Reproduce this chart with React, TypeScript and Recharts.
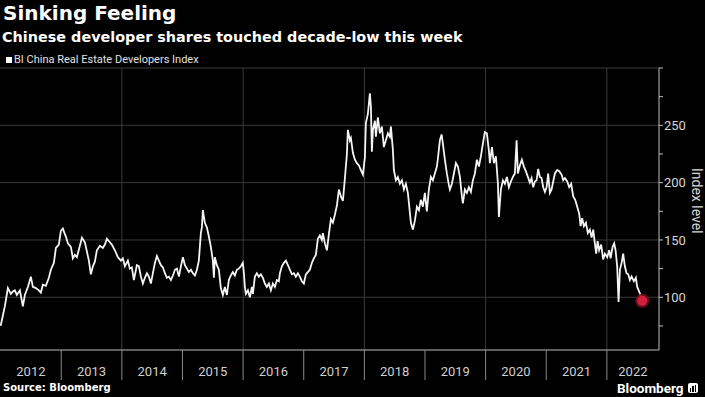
import React from 'react'
import { LineChart, Line, XAxis, YAxis, ReferenceLine } from 'recharts'

type Pt = [number, number]

// BI China Real Estate Developers Index, [decimal year, index level]
const y2012: Pt[] = [
  [2012.0, 75], [2012.033, 83], [2012.07, 92], [2012.12, 108], [2012.169, 103], [2012.202, 105],
  [2012.235, 106], [2012.268, 102], [2012.318, 106], [2012.367, 92], [2012.4, 102], [2012.45, 109],
  [2012.499, 118], [2012.532, 109], [2012.582, 108], [2012.631, 106], [2012.664, 104], [2012.697, 111],
  [2012.747, 110], [2012.796, 117], [2012.829, 124], [2012.879, 130], [2012.912, 143], [2012.961, 146],
]
const y2013: Pt[] = [
  [2012.994, 158], [2013.027, 160], [2013.06, 155], [2013.077, 153], [2013.11, 147], [2013.159, 144],
  [2013.192, 134], [2013.225, 137], [2013.258, 135], [2013.308, 145], [2013.341, 152], [2013.39, 148],
  [2013.423, 140], [2013.456, 132], [2013.489, 120], [2013.522, 127], [2013.555, 131], [2013.588, 141],
  [2013.637, 145], [2013.687, 143], [2013.72, 146], [2013.753, 151], [2013.802, 148], [2013.835, 146],
  [2013.885, 141], [2013.934, 135], [2013.984, 132],
]
const y2014: Pt[] = [
  [2014.017, 134], [2014.05, 127], [2014.099, 132], [2014.132, 125], [2014.165, 126], [2014.198, 115],
  [2014.248, 128], [2014.281, 127], [2014.314, 118], [2014.347, 112], [2014.38, 117], [2014.413, 121],
  [2014.446, 118], [2014.479, 112], [2014.512, 121], [2014.545, 130], [2014.578, 136], [2014.611, 132],
  [2014.644, 128], [2014.677, 126], [2014.71, 121], [2014.743, 117], [2014.776, 118], [2014.809, 115],
  [2014.842, 119], [2014.875, 124], [2014.908, 125], [2014.941, 118], [2014.974, 127],
]
const y2015: Pt[] = [
  [2015.007, 135], [2015.04, 128], [2015.073, 125], [2015.106, 122], [2015.139, 124], [2015.172, 121],
  [2015.205, 119], [2015.238, 124], [2015.27, 132], [2015.303, 156], [2015.32, 161], [2015.336, 176],
  [2015.369, 165], [2015.402, 161], [2015.435, 153], [2015.468, 144], [2015.501, 132], [2015.518, 117],
  [2015.534, 135], [2015.567, 128], [2015.6, 124], [2015.633, 108], [2015.666, 102], [2015.699, 109],
  [2015.732, 102], [2015.765, 115], [2015.798, 119], [2015.831, 122], [2015.864, 119], [2015.897, 124],
  [2015.93, 125], [2015.963, 127], [2015.996, 130],
]
const y2016: Pt[] = [
  [2016.013, 121], [2016.029, 109], [2016.046, 103], [2016.079, 106], [2016.112, 100], [2016.145, 109],
  [2016.161, 103], [2016.194, 118], [2016.227, 121], [2016.26, 118], [2016.293, 120], [2016.326, 117],
  [2016.359, 112], [2016.392, 109], [2016.425, 112], [2016.458, 106], [2016.491, 112], [2016.524, 109],
  [2016.557, 115], [2016.59, 114], [2016.607, 121], [2016.64, 127], [2016.673, 130], [2016.706, 132],
  [2016.739, 128], [2016.772, 124], [2016.805, 120], [2016.838, 121], [2016.87, 118], [2016.903, 121],
  [2016.936, 118], [2016.969, 114], [2017.002, 112],
]
const y2017: Pt[] = [
  [2017.035, 120], [2017.068, 122], [2017.101, 124], [2017.134, 130], [2017.167, 134], [2017.2, 137],
  [2017.233, 151], [2017.266, 154], [2017.299, 150], [2017.316, 156], [2017.349, 147], [2017.382, 141],
  [2017.415, 155], [2017.448, 168], [2017.481, 165], [2017.514, 172], [2017.547, 180], [2017.58, 194],
  [2017.613, 188], [2017.646, 184], [2017.679, 204], [2017.712, 225], [2017.728, 246], [2017.761, 237],
  [2017.778, 239], [2017.811, 226], [2017.844, 220], [2017.877, 217], [2017.91, 215], [2017.943, 211],
  [2017.976, 207],
]
const y2018: Pt[] = [
  [2018.009, 222], [2018.025, 252], [2018.058, 260], [2018.075, 269], [2018.091, 278], [2018.108, 266],
  [2018.124, 227], [2018.141, 246], [2018.174, 254], [2018.19, 240], [2018.223, 257], [2018.256, 243],
  [2018.289, 249], [2018.322, 231], [2018.355, 237], [2018.388, 243], [2018.421, 240], [2018.438, 249],
  [2018.471, 228], [2018.487, 211], [2018.52, 202], [2018.553, 205], [2018.586, 199], [2018.619, 202],
  [2018.652, 194], [2018.685, 199], [2018.718, 191], [2018.735, 182], [2018.768, 165], [2018.801, 159],
  [2018.834, 167], [2018.867, 179], [2018.9, 176], [2018.932, 185], [2018.965, 179], [2018.998, 191],
]
const y2019: Pt[] = [
  [2019.031, 175], [2019.064, 194], [2019.097, 205], [2019.13, 202], [2019.163, 208], [2019.196, 214],
  [2019.213, 221], [2019.246, 237], [2019.274, 242], [2019.295, 234], [2019.328, 220], [2019.361, 208],
  [2019.394, 198], [2019.411, 194], [2019.444, 199], [2019.477, 208], [2019.51, 217], [2019.543, 214],
  [2019.576, 205], [2019.609, 188], [2019.625, 182], [2019.658, 194], [2019.691, 191], [2019.724, 196],
  [2019.757, 192], [2019.79, 202], [2019.823, 208], [2019.856, 220], [2019.889, 214], [2019.922, 223],
  [2019.955, 234], [2019.988, 244],
]
const y2020: Pt[] = [
  [2020.021, 243], [2020.054, 228], [2020.071, 217], [2020.104, 231], [2020.137, 217], [2020.17, 223],
  [2020.203, 199], [2020.219, 170], [2020.252, 194], [2020.285, 202], [2020.318, 199], [2020.351, 205],
  [2020.384, 196], [2020.417, 201], [2020.45, 205], [2020.483, 208], [2020.511, 237], [2020.532, 208],
  [2020.565, 215], [2020.598, 220], [2020.631, 214], [2020.664, 210], [2020.697, 205], [2020.73, 200],
  [2020.758, 204], [2020.785, 196], [2020.813, 201], [2020.841, 202], [2020.867, 212], [2020.895, 205],
  [2020.923, 204], [2020.95, 196], [2020.978, 192],
]
const y2021: Pt[] = [
  [2021.006, 196], [2021.032, 208], [2021.06, 191], [2021.088, 194], [2021.115, 201], [2021.143, 208],
  [2021.181, 211], [2021.214, 210], [2021.253, 207], [2021.28, 202], [2021.308, 204], [2021.346, 201],
  [2021.379, 196], [2021.412, 199], [2021.445, 188], [2021.478, 185], [2021.511, 179], [2021.544, 173],
  [2021.567, 162], [2021.593, 169], [2021.621, 162], [2021.654, 165], [2021.687, 156], [2021.72, 159],
  [2021.748, 152], [2021.775, 159], [2021.802, 147], [2021.824, 138], [2021.847, 149], [2021.873, 141],
  [2021.906, 146], [2021.939, 133], [2021.967, 138],
]
const y2022: Pt[] = [
  [2022.006, 135], [2022.039, 141], [2022.062, 134], [2022.095, 144], [2022.121, 147], [2022.144, 141],
  [2022.17, 127], [2022.193, 96], [2022.215, 124], [2022.243, 130], [2022.269, 138], [2022.297, 127],
  [2022.325, 121], [2022.352, 120], [2022.38, 115], [2022.408, 118], [2022.446, 114], [2022.479, 117],
  [2022.5, 109], [2022.533, 105], [2022.561, 101], [2022.583, 97],
]

const years = [2012, 2013, 2014, 2015, 2016, 2017, 2018, 2019, 2020, 2021, 2022]
const gridYears = [2014, 2016, 2018, 2020, 2022]
const yTicks = [75, 100, 125, 150, 175, 200, 225, 250, 275, 300]
const yLabels = [100, 150, 200, 250]
const gridValues = [100, 150, 200, 250, 300]

const data = [y2012, y2013, y2014, y2015, y2016, y2017, y2018, y2019, y2020, y2021, y2022]
  .flat()
  .map(([t, v]) => ({ t, v }))

const X_MIN = 2011.99
const X_MAX = 2022.86
const PLOT_W = 659
const PX_PER_YEAR = PLOT_W / (X_MAX - X_MIN)

const YearTick = ({ x, y, payload }: any) => {
  const yr = payload.value
  const end = Math.min(yr + 1, X_MAX)
  const mid = x + ((end - yr) / 2) * PX_PER_YEAR
  return (
    <g>
      {yr > 2012 && <line x1={x} x2={x} y1={y} y2={y + 30} stroke="#8a8a8a" />}
      <text x={mid} y={y + 26} textAnchor="middle" fill="#cfcfcf" fontSize={13}>{yr}</text>
    </g>
  )
}

const ValueTick = ({ x, y, payload }: any) => (
  <g>
    <line x1={x} x2={x + 4} y1={y} y2={y} stroke="#bdbdbd" />
    {yLabels.includes(payload.value) && (
      <text x={x + 5} y={y} dy="0.36em" fill="#d6d6d6" fontSize={13}>{payload.value}</text>
    )}
  </g>
)

const LastDot = (props: any) => {
  const { cx, cy, index } = props
  if (index !== data.length - 1) return <g key={index} />
  return (
    <g key={index}>
      <circle cx={cx} cy={cy} r={7} fill="#7a0c1e" opacity={0.9} />
      <circle cx={cx} cy={cy} r={5} fill="#d0203c" />
    </g>
  )
}

export default function App() {
  return (
    <div style={{ position: 'relative', width: 705, height: 397, background: '#000', overflow: 'hidden' }}>
      <style>{'body{margin:0;background:#000}'}</style>
      <div style={{ position: 'absolute', left: 3, top: 3, fontFamily: 'DejaVu Sans', fontWeight: 700, fontSize: 20, lineHeight: '20px', color: '#fff', whiteSpace: 'nowrap' }}>
        Sinking Feeling
      </div>
      <div style={{ position: 'absolute', left: 2, top: 30, fontFamily: 'DejaVu Sans', fontWeight: 700, fontSize: 14.4, lineHeight: '14px', color: '#fff', whiteSpace: 'nowrap' }}>
        Chinese developer shares touched decade-low this week
      </div>
      <div style={{ position: 'absolute', left: 6, top: 54, display: 'flex', alignItems: 'center', fontFamily: 'Roboto', fontSize: 11, lineHeight: '11px', color: '#e0e0e0', whiteSpace: 'nowrap' }}>
        <span style={{ display: 'inline-block', width: 6, height: 6, background: '#fff', marginRight: 2 }} />
        BI China Real Estate Developers Index
      </div>

      <div style={{ position: 'absolute', left: 0, top: 0 }}>
        <LineChart width={705} height={397} data={data} margin={{ top: 68, right: 6, bottom: 17, left: 0 }} style={{ fontFamily: 'Roboto' }}>
          {gridValues.map(v => (
            <ReferenceLine key={'h' + v} y={v} stroke="#3a3a3a" strokeWidth={1} />
          ))}
          {gridYears.map(yr => (
            <ReferenceLine key={'v' + yr} x={yr} stroke="#3a3a3a" strokeWidth={1} />
          ))}
          <XAxis dataKey="t" type="number" domain={[X_MIN, X_MAX]} ticks={years} interval={0} allowDataOverflow
            height={30} tickSize={0} tickMargin={0} tickLine={false} axisLine={{ stroke: '#bdbdbd' }} tick={<YearTick />} />
          <YAxis orientation="right" domain={[54, 300]} ticks={yTicks} interval={0} allowDataOverflow
            width={40} tickSize={0} tickMargin={0} tickLine={false} axisLine={{ stroke: '#bdbdbd' }} tick={<ValueTick />} />
          <Line dataKey="v" stroke="none" dot={<LastDot />} activeDot={false} isAnimationActive={false} />
          <Line dataKey="v" type="linear" stroke="#f4f4f4" strokeWidth={1.8} dot={false} activeDot={false} isAnimationActive={false} />
        </LineChart>
      </div>

      <div style={{ position: 'absolute', left: 690, top: 168, writingMode: 'vertical-rl', fontFamily: 'Roboto', fontSize: 14, lineHeight: '14px', color: '#d6d6d6', whiteSpace: 'nowrap' }}>
        Index level
      </div>

      <div style={{ position: 'absolute', left: 3, top: 383, fontFamily: 'DejaVu Sans', fontWeight: 700, fontSize: 10, lineHeight: '10px', color: '#fff', whiteSpace: 'nowrap' }}>
        Source: Bloomberg
      </div>
      <div style={{ position: 'absolute', left: 617, top: 382, display: 'flex', alignItems: 'center', fontFamily: 'Roboto', fontWeight: 700, fontSize: 13.5, lineHeight: '12px', color: '#fff', whiteSpace: 'nowrap' }}>
        Bloomberg
        <span style={{ position: 'relative', display: 'inline-block', width: 10, height: 10, background: '#fff', borderRadius: 2, marginLeft: 4 }}>
          <span style={{ position: 'absolute', left: 2, top: 5, width: 1.5, height: 4, background: '#000' }} />
          <span style={{ position: 'absolute', left: 4.5, top: 3, width: 1.5, height: 6, background: '#000' }} />
          <span style={{ position: 'absolute', left: 7, top: 2, width: 1.5, height: 7, background: '#000' }} />
        </span>
      </div>
    </div>
  )
}
